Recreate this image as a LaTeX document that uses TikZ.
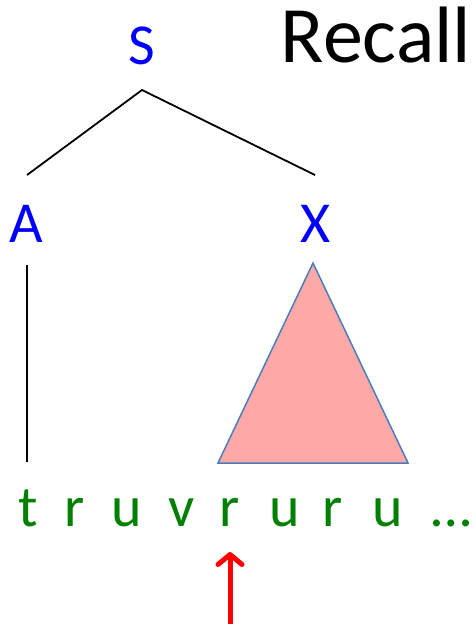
\documentclass[tikz,border=0pt]{standalone}
\usepackage{fontspec}
\setmainfont{Carlito}
\usetikzlibrary{arrows.meta}
\definecolor{nodeblue}{RGB}{0,0,255}
\definecolor{leafgreen}{RGB}{0,128,0}
\definecolor{tripink}{RGB}{255,168,168}
\definecolor{triedge}{RGB}{74,126,187}
\begin{document}
\begin{tikzpicture}[x=1pt,y=-1pt,
  lab/.style={inner sep=0pt,anchor=base,text=nodeblue,font=\fontsize{58}{60}\selectfont},
  leaf/.style={inner sep=0pt,anchor=base,text=leafgreen,font=\fontsize{58}{60}\selectfont},
  edge/.style={draw=black,line width=1.8pt}]
\useasboundingbox (0,0) rectangle (475,626);
\node[inner sep=0pt,anchor=base,font=\fontsize{80}{84}\selectfont] (title) at (376,63) {Recall};
\node[lab] (S) at (141.5,64) {S};
\node[lab] (A) at (26.5,242) {A};
\node[lab] (X) at (316,242) {X};
\coordinate (sroot) at (142,90);
\coordinate (aup) at (27,175);
\coordinate (xup) at (315,175);
\coordinate (adown) at (27,265);
\coordinate (abot) at (27,462);
\draw[edge] (aup) -- (sroot) -- (xup);
\draw[edge] (adown) -- (abot);
\coordinate (tapex) at (313,263);
\coordinate (tleft) at (218,463);
\coordinate (tright) at (408,463);
\draw[fill=tripink,draw=triedge,line width=1.5pt,line join=miter] (tapex) -- (tleft) -- (tright) -- cycle;
\node[leaf] (l1) at (28,526) {t};
\node[leaf] (l2) at (75,526) {r};
\node[leaf] (l3) at (127,526) {u};
\node[leaf] (l4) at (182,526) {v};
\node[leaf] (l5) at (230,526) {r};
\node[leaf] (l6) at (285,526) {u};
\node[leaf] (l7) at (333,526) {r};
\node[leaf] (l8) at (388,526) {u};
\node[leaf] (l9) at (452,526) {\dots};
\coordinate (arrfoot) at (230,624);
\coordinate (arrtip) at (230,552);
\draw[red,line width=5pt,-{Straight Barb[length=10pt,width=24pt,line width=5pt,round]}] (arrfoot) -- (arrtip);
\end{tikzpicture}
\end{document}
